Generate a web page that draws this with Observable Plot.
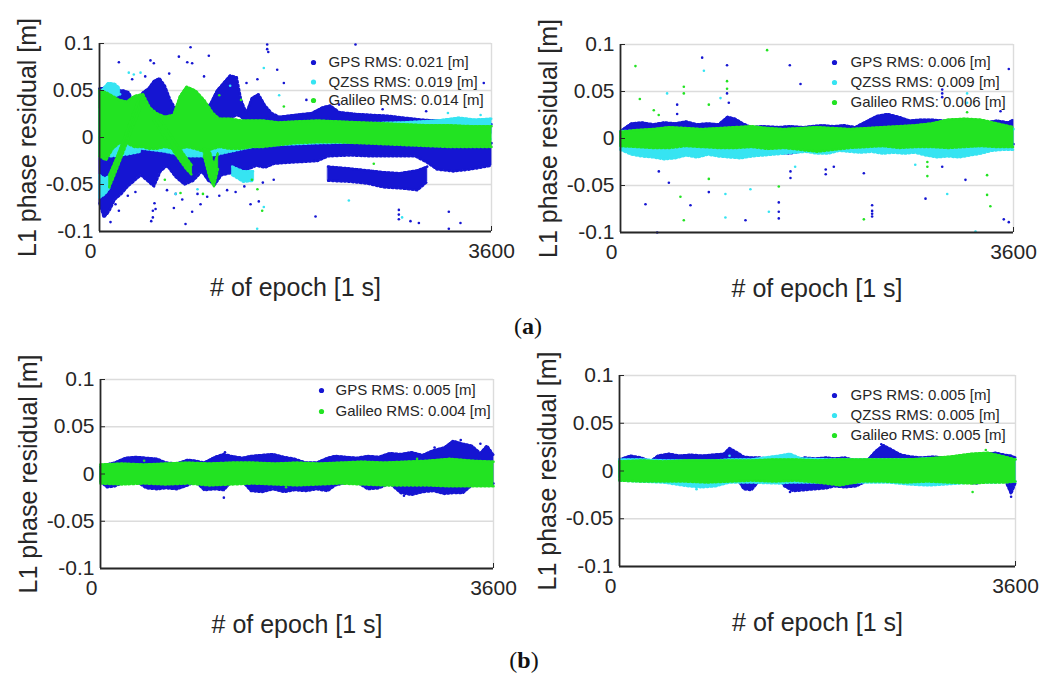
<!DOCTYPE html>
<html><head><meta charset="utf-8">
<script src="https://cdn.jsdelivr.net/npm/d3@7"></script>
<script src="https://cdn.jsdelivr.net/npm/@observablehq/plot@0.6"></script>
<style>
body{margin:0;background:#fff;}
#wrap{position:relative;width:1046px;height:673px;font-family:"Liberation Sans",Arial,sans-serif;overflow:hidden;}
.panel{position:absolute;}
.cap{position:absolute;font-family:"Liberation Serif","Times New Roman",serif;font-size:24px;color:#111;transform:translate(-50%,-50%);}
</style></head><body><div id="wrap"></div>
<script>
// ---------- shared axis data ----------
const xTicks = [0, 3600];
const yTicks = [-0.1, -0.05, 0, 0.05, 0.1];
const xLabel = "# of epoch [1 s]";
const yLabel = "L1 phase residual [m]";
const seriesNames = ["GPS", "QZSS", "Galileo"];
const seriesColors = {GPS: "#1515d2", QZSS: "#36e4f2", Galileo: "#22e322"};

// ---------- panel (a) left ----------
const p1Legend = ["GPS RMS: 0.021 [m]", "QZSS RMS: 0.019 [m]", "Galileo RMS: 0.014 [m]"];
const p1GpsUpper = [[0,0.000,0.052],[50,0.008,0.053],[100,0.015,0.051],[160,0.020,0.050],[220,0.022,0.050],[270,0.026,0.048],[310,0.032,0.036],[350,0.030,0.040],[400,0.020,0.048],[450,0.016,0.052],[500,0.014,0.060],[550,0.012,0.063],[600,0.016,0.055],[650,0.020,0.040],[700,0.026,0.030],[740,0.024,0.040],[800,0.018,0.052],[860,0.016,0.050],[920,0.020,0.038],[970,0.024,0.030],[1020,0.020,0.036],[1080,0.012,0.050],[1140,0.014,0.058],[1200,0.020,0.066],[1260,0.024,0.064],[1300,0.022,0.040],[1350,0.016,0.026],[1400,0.016,0.042],[1460,0.018,0.046],[1520,0.016,0.034],[1580,0.012,0.026],[1650,0.010,0.022],[1800,0.012,0.024],[1950,0.013,0.026],[2050,0.015,0.032],[2120,0.015,0.034],[2200,0.014,0.027],[2350,0.013,0.025],[2500,0.012,0.024],[2650,0.011,0.023],[2800,0.010,0.021],[2950,0.008,0.019],[3100,0.007,0.018],[3250,0.006,0.019],[3400,0.005,0.017],[3600,0.004,0.014]];
const p1GpsLower = [[0,-0.070,0.000],[40,-0.085,-0.004],[90,-0.078,-0.008],[140,-0.066,-0.010],[200,-0.060,-0.010],[260,-0.052,-0.012],[320,-0.046,-0.010],[380,-0.040,-0.006],[440,-0.046,-0.006],[500,-0.052,-0.010],[560,-0.036,-0.010],[620,-0.030,-0.008],[700,-0.042,-0.010],[780,-0.050,-0.012],[860,-0.046,-0.010],[940,-0.036,-0.008],[1000,-0.046,-0.010],[1060,-0.050,-0.006],[1120,-0.040,-0.006],[1200,-0.038,-0.008],[1280,-0.040,-0.008],[1360,-0.034,-0.006],[1440,-0.030,-0.006],[1520,-0.032,-0.006],[1600,-0.028,-0.005],[1700,-0.027,-0.004],[1850,-0.026,-0.004],[2000,-0.025,-0.004],[2100,-0.020,-0.004],[2300,-0.019,-0.005],[2500,-0.020,-0.005],[2700,-0.020,-0.006],[2900,-0.020,-0.005],[3000,-0.026,-0.005],[3100,-0.034,-0.006],[3250,-0.036,-0.006],[3400,-0.034,-0.006],[3600,-0.030,-0.006]];
const p1GpsBlock = [[2100,-0.046,-0.031],[2300,-0.047,-0.033],[2460,-0.049,-0.035],[2610,-0.053,-0.037],[2760,-0.054,-0.038],[2920,-0.056,-0.035],[3010,-0.047,-0.031]];
const p1GpsDots = [[836,0.096],[178,0.080],[468,0.082],[499,0.079],[729,0.086],[806,0.080],[851,0.079],[1004,0.087],[1540,0.099],[1540,0.094],[1550,0.091],[2351,0.099],[1632,0.072],[1693,0.058],[3529,0.058],[70,-0.081],[101,-0.090],[147,-0.071],[178,-0.078],[490,-0.078],[490,-0.085],[475,-0.089],[505,-0.070],[515,-0.076],[683,-0.075],[790,-0.092],[851,-0.079],[928,-0.071],[989,-0.063],[1172,-0.056],[1387,-0.071],[1463,-0.068],[1984,-0.084],[2749,-0.077],[2749,-0.082],[2749,-0.087],[2856,-0.089],[2933,-0.091],[3208,-0.079],[3208,-0.097],[3315,-0.091],[260,-0.062],[330,-0.058],[620,-0.056],[700,-0.060],[760,-0.066],[900,-0.060],[1100,-0.062],[1250,-0.058],[1330,-0.052],[1500,-0.048],[1600,-0.045],[300,0.062],[420,0.065],[640,0.068],[960,0.065],[1350,0.058],[1450,0.062],[1900,0.040],[2200,0.035],[2600,0.030],[3000,0.028]];
const p1QzssMain = [[0,-0.020,0.030],[200,-0.015,0.030],[400,-0.012,0.025],[600,-0.015,0.020],[800,-0.020,0.020],[1000,-0.020,0.020],[1200,-0.015,0.015],[1400,-0.010,0.015],[1600,-0.008,0.014],[2000,-0.006,0.015],[2400,-0.005,0.015],[2800,-0.004,0.016],[3100,-0.004,0.018],[3300,-0.002,0.021],[3450,-0.002,0.019],[3600,-0.002,0.020]];
const p1QzssTop = [[20,0.042,0.050],[80,0.040,0.058],[140,0.044,0.057],[190,0.046,0.052]];
const p1QzssLeftLow = [[0,-0.064,-0.040],[50,-0.060,-0.044],[100,-0.052,-0.040]];
const p1QzssMidLeft = [[100,-0.020,-0.005],[250,-0.018,-0.004],[380,-0.015,-0.006]];
const p1QzssStreak = [[1220,-0.040,-0.031],[1320,-0.047,-0.036],[1420,-0.046,-0.036]];
const p1QzssDots = [[269,0.069],[315,0.067],[377,0.069],[1509,0.074],[1448,-0.097],[1509,-0.074],[2290,-0.067],[2779,-0.085],[1200,0.055],[1650,0.045],[3200,0.026],[3500,0.024],[700,-0.060],[900,-0.055]];
const p1GalMain = [[0,-0.020,0.050],[60,-0.024,0.048],[120,-0.012,0.044],[180,-0.006,0.040],[250,-0.006,0.038],[320,-0.010,0.044],[400,-0.010,0.046],[460,-0.012,0.032],[520,-0.012,0.026],[600,-0.010,0.022],[680,-0.012,0.024],[740,-0.012,0.044],[800,-0.010,0.054],[880,-0.012,0.050],[960,-0.015,0.040],[1040,-0.012,0.026],[1100,-0.010,0.020],[1200,-0.012,0.020],[1300,-0.012,0.018],[1400,-0.010,0.018],[1500,-0.010,0.018],[1650,-0.008,0.016],[1800,-0.006,0.017],[2000,-0.005,0.018],[2200,-0.005,0.017],[2400,-0.006,0.016],[2600,-0.007,0.015],[2800,-0.008,0.014],[3000,-0.009,0.013],[3200,-0.010,0.013],[3400,-0.010,0.012],[3600,-0.010,0.012]];
const p1GalRise = [[90,-0.053,-0.040],[160,-0.033,-0.021],[230,-0.012,0.000],[300,0.010,0.022],[380,0.033,0.046]];
const p1GalFall = [[500,0.018,0.028],[600,0.000,0.012],[700,-0.018,-0.006],[800,-0.034,-0.022],[850,-0.040,-0.030]];
const p1GalDip = [[960,-0.020,-0.012],[1010,-0.042,-0.014],[1050,-0.052,-0.030],[1090,-0.032,-0.016]];
const p1GalDots = [[1693,0.033],[1494,-0.078],[744,-0.059],[2519,-0.028],[1400,-0.045],[1450,-0.055],[1100,0.045],[1300,0.040],[600,-0.045],[950,-0.060]];

// ---------- panel (a) right ----------
const p2Legend = ["GPS RMS: 0.006 [m]", "QZSS RMS: 0.009 [m]", "Galileo RMS: 0.006 [m]"];
const p2Gps = [[0,-0.006,0.008],[100,-0.006,0.016],[200,-0.006,0.017],[300,-0.006,0.015],[400,-0.006,0.017],[500,-0.006,0.016],[600,-0.006,0.018],[700,-0.006,0.015],[800,-0.006,0.016],[900,-0.006,0.015],[980,-0.006,0.023],[1050,-0.006,0.021],[1120,-0.006,0.016],[1200,-0.006,0.012],[1300,-0.008,0.013],[1450,-0.015,0.012],[1550,-0.016,0.013],[1680,-0.013,0.012],[1750,-0.006,0.013],[1850,-0.006,0.014],[1950,-0.006,0.013],[2050,-0.006,0.014],[2150,-0.006,0.012],[2250,-0.006,0.018],[2350,-0.006,0.024],[2450,-0.006,0.026],[2550,-0.006,0.023],[2650,-0.006,0.019],[2750,-0.006,0.020],[2850,-0.006,0.020],[2950,-0.006,0.019],[3050,-0.006,0.017],[3150,-0.006,0.018],[3250,-0.006,0.015],[3350,-0.006,0.017],[3450,-0.006,0.019],[3550,-0.006,0.017],[3600,-0.006,0.020]];
const p2GpsDots = [[748,0.086],[976,0.078],[976,0.048],[992,0.038],[519,0.036],[519,0.026],[1551,0.078],[1649,0.058],[2947,0.048],[2947,0.052],[2947,0.044],[3557,0.074],[3481,0.029],[229,-0.070],[641,-0.071],[809,-0.057],[1145,-0.087],[1450,-0.068],[1450,-0.078],[1450,-0.085],[2305,-0.071],[2305,-0.077],[2305,-0.080],[2305,-0.083],[2794,-0.064],[3160,-0.044],[2947,-0.030],[3511,-0.086],[3557,-0.089],[336,-0.100],[1880,-0.033],[1880,-0.038],[1954,-0.030],[1557,-0.035],[1557,-0.042],[351,-0.035],[443,-0.047],[2229,-0.037]];
const p2Qzss = [[0,-0.012,0.008],[100,-0.017,0.008],[200,-0.019,0.008],[300,-0.020,0.008],[400,-0.022,0.008],[500,-0.021,0.008],[600,-0.018,0.008],[700,-0.020,0.008],[800,-0.017,0.008],[900,-0.019,0.008],[1000,-0.020,0.008],[1100,-0.021,0.008],[1200,-0.019,0.008],[1300,-0.018,0.008],[1400,-0.017,0.008],[1500,-0.016,0.008],[1600,-0.015,0.008],[1700,-0.014,0.008],[1800,-0.016,0.008],[1900,-0.016,0.008],[2000,-0.013,0.008],[2100,-0.014,0.008],[2200,-0.015,0.008],[2300,-0.014,0.009],[2400,-0.016,0.009],[2500,-0.015,0.009],[2600,-0.016,0.009],[2700,-0.015,0.010],[2800,-0.018,0.010],[2900,-0.020,0.012],[3000,-0.019,0.012],[3100,-0.020,0.014],[3200,-0.018,0.013],[3300,-0.016,0.012],[3400,-0.013,0.012],[3500,-0.012,0.011],[3600,-0.012,0.010]];
const p2QzssDots = [[764,0.072],[427,0.048],[916,0.043],[3175,0.048],[3175,0.038],[961,-0.059],[1190,-0.054],[1359,-0.078],[961,-0.084],[2993,-0.059],[3252,-0.099],[2700,-0.028],[1600,-0.030]];
const p2Gal = [[0,-0.008,0.007],[150,-0.009,0.009],[300,-0.010,0.010],[450,-0.010,0.012],[600,-0.008,0.011],[750,-0.009,0.010],[900,-0.010,0.011],[1050,-0.010,0.012],[1200,-0.009,0.013],[1350,-0.011,0.011],[1500,-0.010,0.010],[1650,-0.012,0.011],[1800,-0.014,0.012],[1950,-0.012,0.011],[2100,-0.010,0.010],[2250,-0.009,0.011],[2400,-0.008,0.012],[2550,-0.010,0.013],[2700,-0.009,0.014],[2850,-0.009,0.016],[3000,-0.010,0.020],[3150,-0.009,0.021],[3300,-0.008,0.020],[3450,-0.009,0.016],[3600,-0.009,0.012]];
const p2GalDots = [[137,0.077],[177,0.042],[305,0.030],[350,0.025],[580,0.055],[580,0.048],[976,0.061],[976,0.053],[809,0.036],[1343,0.094],[3175,0.028],[2811,-0.025],[2811,-0.030],[3358,-0.039],[3358,-0.060],[3388,-0.072],[2229,-0.086],[549,-0.062],[580,-0.087],[809,-0.043],[1450,-0.051],[2811,-0.040]];

// ---------- panel (b) left ----------
const p3Legend = ["GPS RMS: 0.005 [m]", "Galileo RMS: 0.004 [m]"];
const p3Gps = [[0,-0.008,0.008],[60,-0.014,0.010],[130,-0.013,0.012],[230,-0.008,0.017],[330,-0.008,0.018],[420,-0.015,0.017],[520,-0.016,0.016],[600,-0.015,0.012],[700,-0.016,0.011],[800,-0.012,0.015],[870,-0.008,0.014],[950,-0.017,0.012],[1050,-0.016,0.018],[1130,-0.017,0.021],[1200,-0.008,0.019],[1300,-0.008,0.017],[1380,-0.018,0.019],[1480,-0.019,0.020],[1580,-0.016,0.021],[1680,-0.019,0.018],[1780,-0.017,0.016],[1880,-0.018,0.012],[1980,-0.016,0.012],[2080,-0.018,0.017],[2150,-0.012,0.019],[2250,-0.009,0.018],[2350,-0.009,0.017],[2450,-0.016,0.019],[2550,-0.015,0.018],[2650,-0.010,0.022],[2750,-0.020,0.021],[2850,-0.022,0.023],[2950,-0.019,0.020],[3050,-0.018,0.025],[3150,-0.021,0.028],[3230,-0.020,0.035],[3320,-0.020,0.032],[3400,-0.012,0.030],[3480,-0.011,0.022],[3540,-0.011,0.030],[3600,-0.010,0.020]];
const p3GpsDots = [[1130,-0.025],[3060,0.028],[3300,0.036],[3480,0.032],[1140,0.023],[2780,-0.023]];
const p3Gal = [[0,-0.010,0.010],[200,-0.011,0.011],[400,-0.010,0.010],[600,-0.011,0.011],[800,-0.010,0.012],[1000,-0.012,0.011],[1200,-0.011,0.012],[1400,-0.010,0.012],[1600,-0.011,0.011],[1800,-0.012,0.012],[2000,-0.011,0.011],[2200,-0.010,0.012],[2400,-0.011,0.013],[2600,-0.012,0.012],[2800,-0.012,0.013],[3000,-0.012,0.014],[3200,-0.013,0.016],[3400,-0.013,0.014],[3600,-0.013,0.013]];
const p3GalDots = [[400,0.014],[2900,0.016],[1700,-0.014]];

// ---------- panel (b) right ----------
const p4Legend = ["GPS RMS: 0.005 [m]", "QZSS RMS: 0.005 [m]", "Galileo RMS: 0.005 [m]"];
const p4Gps = [[0,-0.006,0.012],[100,-0.006,0.016],[200,-0.006,0.014],[280,-0.006,0.010],[350,-0.006,0.016],[450,-0.006,0.018],[550,-0.006,0.016],[650,-0.006,0.017],[750,-0.006,0.016],[850,-0.006,0.017],[950,-0.006,0.018],[1000,-0.006,0.024],[1060,-0.006,0.020],[1130,-0.019,0.015],[1200,-0.020,0.014],[1270,-0.010,0.014],[1350,-0.008,0.013],[1450,-0.008,0.014],[1500,-0.016,0.010],[1580,-0.021,0.010],[1680,-0.020,0.014],[1780,-0.019,0.013],[1880,-0.018,0.014],[1950,-0.016,0.013],[2050,-0.017,0.014],[2150,-0.016,0.011],[2260,-0.010,0.012],[2330,-0.008,0.021],[2400,-0.008,0.027],[2480,-0.008,0.022],[2560,-0.008,0.017],[2650,-0.008,0.015],[2750,-0.008,0.014],[2850,-0.008,0.015],[2950,-0.008,0.014],[3050,-0.008,0.012],[3150,-0.012,0.012],[3250,-0.013,0.013],[3330,-0.008,0.018],[3420,-0.008,0.019],[3500,-0.008,0.017],[3560,-0.024,0.016],[3600,-0.012,0.014]];
const p4GpsDots = [[3560,-0.027],[1550,-0.022],[2380,0.028]];
const p4Qzss = [[0,-0.010,0.012],[200,-0.011,0.012],[400,-0.012,0.011],[630,-0.016,0.011],[750,-0.017,0.011],[870,-0.016,0.011],[1000,-0.012,0.012],[1200,-0.012,0.012],[1450,-0.013,0.016],[1550,-0.012,0.018],[1650,-0.012,0.013],[1900,-0.012,0.012],[2200,-0.012,0.012],[2450,-0.012,0.012],[2630,-0.014,0.012],[2800,-0.015,0.013],[2960,-0.014,0.013],[3200,-0.012,0.014],[3400,-0.012,0.015],[3600,-0.011,0.012]];
const p4QzssDots = [[1000,0.016],[700,-0.019]];
const p4Gal = [[0,-0.010,0.010],[200,-0.011,0.011],[400,-0.011,0.010],[600,-0.011,0.011],[800,-0.012,0.011],[1000,-0.011,0.011],[1200,-0.010,0.011],[1400,-0.011,0.012],[1600,-0.010,0.012],[1800,-0.012,0.011],[2000,-0.015,0.012],[2200,-0.011,0.012],[2400,-0.011,0.012],[2600,-0.012,0.012],[2800,-0.011,0.013],[3000,-0.012,0.015],[3200,-0.013,0.018],[3350,-0.012,0.019],[3500,-0.012,0.015],[3600,-0.011,0.012]];
const p4GalDots = [[3210,-0.022],[3330,0.022]];

// ---------- layout (positions / sizes only) ----------
const panels = [
  {left: 0, top: 0, width: 520, height: 310, m: [43, 29, 79, 99], legend: p1Legend, legendDx: [-178, -163], legendDy: [19, 38.5, 57],
   series: [
     {name: "GPS", bands: [p1GpsUpper, p1GpsLower, p1GpsBlock], dots: p1GpsDots},
     {name: "QZSS", bands: [p1QzssMain, p1QzssTop, p1QzssLeftLow, p1QzssMidLeft, p1QzssStreak], dots: p1QzssDots},
     {name: "Galileo", bands: [p1GalMain, p1GalRise, p1GalFall, p1GalDip], dots: p1GalDots}]},
  {left: 520, top: 0, width: 526, height: 310, m: [44, 33, 78, 100], legend: p2Legend, legendDx: [-179, -163], legendDy: [18, 38, 58],
   series: [
     {name: "GPS", bands: [p2Gps], dots: p2GpsDots},
     {name: "QZSS", bands: [p2Qzss], dots: p2QzssDots},
     {name: "Galileo", bands: [p2Gal], dots: p2GalDots}]},
  {left: 0, top: 330, width: 520, height: 310, m: [49, 27, 72, 100], legend: p3Legend, legendDx: [-172, -158], legendDy: [11, 32],
   series: [
     {name: "GPS", bands: [p3Gps], dots: p3GpsDots},
     {name: "Galileo", bands: [p3Gal], dots: p3GalDots}]},
  {left: 520, top: 330, width: 526, height: 310, m: [45, 31, 74, 99], legend: p4Legend, legendDx: [-181, -165], legendDy: [20, 40, 60],
   series: [
     {name: "GPS", bands: [p4Gps], dots: p4GpsDots},
     {name: "QZSS", bands: [p4Qzss], dots: p4QzssDots},
     {name: "Galileo", bands: [p4Gal], dots: p4GalDots}]}
];

const ink = "#262626";
const fmt = d => String(d);
const wrap = document.getElementById("wrap");

for (const p of panels) {
  const marks = [
    Plot.gridY(yTicks, {stroke: "#dcdcdc", strokeOpacity: 1, strokeWidth: 1.4}),
    Plot.gridX(xTicks.slice(1), {stroke: "#dcdcdc", strokeOpacity: 1, strokeWidth: 1.4})
  ];
  for (const s of p.series) {
    const color = seriesColors[s.name];
    for (const band of s.bands) {
      const rows = band.map(([e, lo, hi]) => ({e, lo, hi}));
      marks.push(Plot.areaY(rows, {x: "e", y1: "lo", y2: "hi", fill: color, stroke: color, strokeWidth: 0.8, curve: "linear"}));
      marks.push(Plot.line(rows, {x: "e", y: "hi", stroke: color, strokeWidth: 2.6, strokeDasharray: "1.6 2.4"}));
      marks.push(Plot.line(rows, {x: "e", y: "lo", stroke: color, strokeWidth: 2.6, strokeDasharray: "1.6 2.4"}));
    }
    marks.push(Plot.dot(s.dots.map(([e, v]) => ({e, v})), {x: "e", y: "v", r: 1.3, fill: color, stroke: null}));
  }
  // axes
  marks.push(Plot.ruleX(xTicks.slice(0, 1), {stroke: ink, strokeWidth: 1.8}));
  marks.push(Plot.ruleY(yTicks.slice(0, 1), {stroke: ink, strokeWidth: 1.8}));
  marks.push(Plot.axisY(yTicks, {tickSize: -5, tickPadding: 11, fontSize: 21, tickFormat: fmt, label: null, color: ink}));
  marks.push(Plot.axisX(xTicks.slice(0, 1), {tickSize: 0, tickPadding: 12, dx: -9, fontSize: 21, tickFormat: fmt, label: null, color: ink}));
  marks.push(Plot.axisX(xTicks.slice(1), {tickSize: -5, tickPadding: 17, fontSize: 21, tickFormat: fmt, label: null, color: ink}));
  marks.push(Plot.text([yLabel], {text: d => d, frameAnchor: "left", textAnchor: "middle", lineAnchor: "middle", dx: -72, rotate: -90, fontSize: 25, fill: ink}));
  marks.push(Plot.text([xLabel], {text: d => d, frameAnchor: "bottom", textAnchor: "middle", lineAnchor: "middle", dy: 56, fontSize: 25, fill: ink}));
  // legend
  const names = p.series.map(s => s.name);
  p.legend.forEach((label, i) => {
    marks.push(Plot.dot([label], {frameAnchor: "top-right", dx: p.legendDx[0], dy: p.legendDy[i], r: 2.6, fill: seriesColors[names[i]], stroke: null}));
    marks.push(Plot.text([label], {text: d => d, frameAnchor: "top-right", textAnchor: "start", lineAnchor: "middle", dx: p.legendDx[1], dy: p.legendDy[i], fontSize: 15, fill: ink}));
  });
  const svg = Plot.plot({
    width: p.width, height: p.height,
    marginTop: p.m[0], marginRight: p.m[1], marginBottom: p.m[2], marginLeft: p.m[3],
    x: {domain: [xTicks[0], xTicks[1]], axis: null},
    y: {domain: [yTicks[0], yTicks[4]], axis: null},
    style: {fontFamily: "'Liberation Sans', Arial, sans-serif", background: "transparent", overflow: "visible"},
    marks
  });
  svg.classList.add("panel");
  svg.style.left = p.left + "px";
  svg.style.top = p.top + "px";
  wrap.appendChild(svg);
}

const captions = [{html: "(<b>a</b>)", left: 528, top: 326}, {html: "(<b>b</b>)", left: 524, top: 660}];
for (const c of captions) {
  const d = document.createElement("div");
  d.className = "cap";
  d.innerHTML = c.html;
  d.style.left = c.left + "px";
  d.style.top = c.top + "px";
  wrap.appendChild(d);
}
</script></body></html>
